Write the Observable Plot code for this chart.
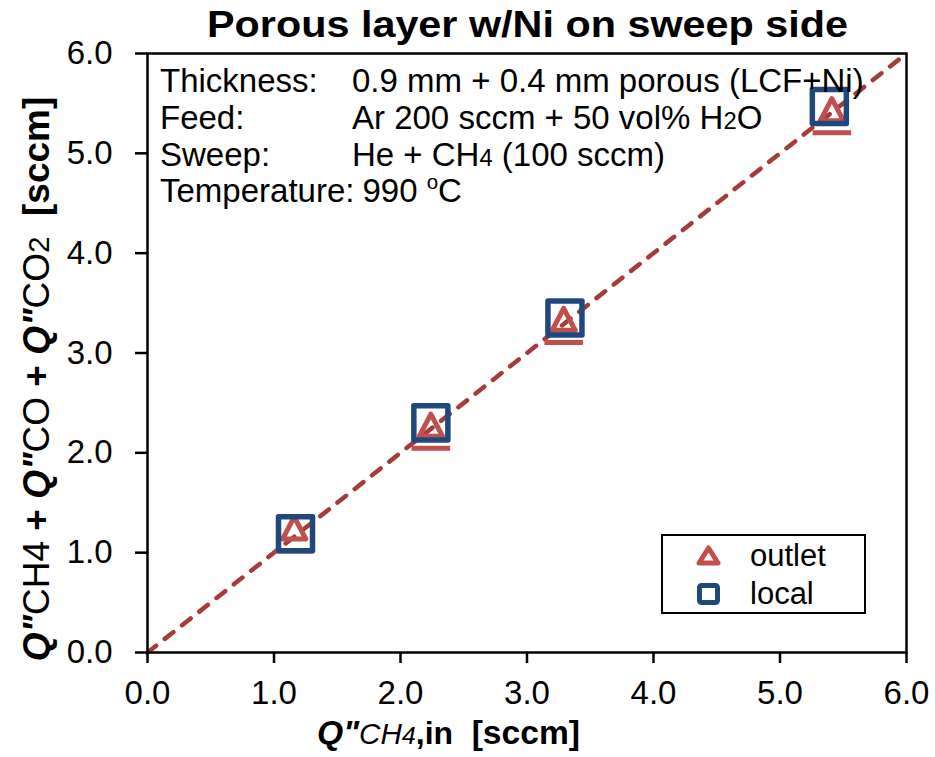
<!DOCTYPE html>
<html><head><meta charset="utf-8">
<script src="https://cdn.jsdelivr.net/npm/d3@7"></script>
<script src="https://cdn.jsdelivr.net/npm/@observablehq/plot@0.6"></script>
<style>
body{margin:0;background:#fff;}
svg{font-family:"Liberation Sans",Arial,sans-serif;}
</style>
</head><body><div id="chart"></div>
<script>
// ---- data ----
const titleText = "Porous layer w/Ni on sweep side";
const axisTicks = [0, 1, 2, 3, 4, 5, 6];
const parityLine = [0, 6];
const outletX = [1.16, 2.24, 3.29, 5.41];
const outletY = [1.22, 2.25, 3.31, 5.41];
const localX = [1.17, 2.24, 3.30, 5.39];
const localY = [1.19, 2.30, 3.35, 5.47];
const seriesNames = ["outlet", "local"];
const infoLabels = ["Thickness:", "Feed:", "Sweep:", "Temperature:"];
const infoValues = [
  [{t:"0.9 mm + 0.4 mm porous (LCF+Ni)"}],
  [{t:"Ar 200 sccm + 50 vol% H"},{t:"2",sub:1},{t:"O"}],
  [{t:"He + CH"},{t:"4",sub:1},{t:" (100 sccm)"}],
  [{t:"990 "},{t:"o",sup:1},{t:"C"}]
];
const xLabelParts = [{t:"Q\"",b:1,i:1},{t:"CH",i:1,s:0.88},{t:"4",i:1,s:0.75},{t:",in",b:1,s:0.95},{t:"  [sccm]",b:1}];
const yLabelParts = [{t:"Q\"",b:1,i:1},{t:"CH4"},{t:" + ",b:1},{t:"Q\"",b:1,i:1},{t:"CO"},{t:" + ",b:1},{t:"Q\"",b:1,i:1},{t:"CO"},{t:"2",s:0.8},{t:"  [sccm]",b:1}];

const red = "#c0504d", blue = "#1f497d", lineRed = "#a63c3a";

const outlet = outletX.map((x, i) => ({x, y: outletY[i]}));
const local = localX.map((x, i) => ({x, y: localY[i]}));
const diag = parityLine.map(v => ({x: v, y: v}));

// triangle marker with the bar drawn under it
const triBar = {draw(ctx, size){ const r = Math.sqrt(size/Math.PI);
  ctx.moveTo(0, -1.25*r); ctx.lineTo(1.05*r, 0.75*r); ctx.lineTo(-1.05*r, 0.75*r); ctx.closePath();
  ctx.moveTo(-1.75*r, 1.85*r); ctx.lineTo(1.75*r, 1.85*r); }};

const W = 935, H = 757, mL = 147, mR = 29, mT = 53, mB = 105;

const plot = Plot.plot({
  width: W, height: H,
  marginLeft: mL, marginRight: mR, marginTop: mT, marginBottom: mB,
  style: {fontFamily: "Liberation Sans, Arial, sans-serif", fontSize: "33px", background: "white", color: "black"},
  x: {domain: [0, 6]},
  y: {domain: [0, 6]},
  marks: [
    Plot.line(diag, {x: "x", y: "y", stroke: lineRed, strokeWidth: 4.5, strokeDasharray: "11,11", strokeLinecap: "round"}),
    Plot.dot(outlet, {x: "x", y: "y", symbol: triBar, r: 11, stroke: red, strokeWidth: 5, fill: "none", strokeLinejoin: "round"}),
    Plot.dot(local, {x: "x", y: "y", symbol: "square", r: 19.2, stroke: blue, strokeWidth: 5.5, fill: "none", strokeLinejoin: "round"}),
    Plot.frame({stroke: "black", strokeWidth: 2.5}),
    Plot.axisX({ticks: axisTicks, tickFormat: d => d.toFixed(1), tickSize: 11, tickPadding: 17, strokeWidth: 2.5, fontSize: 33, label: null}),
    Plot.axisY({ticks: axisTicks, tickFormat: d => d.toFixed(1), tickSize: 12, tickPadding: 23, strokeWidth: 2.5, fontSize: 33, label: null})
  ]
});
document.getElementById("chart").appendChild(plot);

const svg = d3.select(plot);
function rich(sel, parts, base){
  parts.forEach((p, k) => {
    const ts = sel.append("tspan").text(p.t)
      .attr("font-weight", p.b ? "bold" : "normal")
      .attr("font-style", p.i ? "italic" : "normal")
      .attr("font-size", (p.s ? p.s*base : (p.sub ? 0.72*base : p.sup ? 0.62*base : base)) + "px");
    if (p.sup) ts.attr("dy", -0.4*base);
    else if (k > 0 && parts[k-1].sup) ts.attr("dy", 0.4*base);
  });
  return sel;
}
// title
svg.append("text").attr("x", 527.5).attr("y", 37).attr("text-anchor", "middle")
  .attr("font-size", 36).attr("font-weight", "bold").attr("fill", "black")
  .attr("textLength", 641).attr("lengthAdjust", "spacingAndGlyphs").text(titleText);
// x label
rich(svg.append("text").attr("x", 317).attr("y", 744).attr("text-anchor", "start").attr("fill", "black")
  .attr("textLength", 263).attr("lengthAdjust", "spacingAndGlyphs"), xLabelParts, 33);
// y label
rich(svg.append("text").attr("transform", "translate(49,379) rotate(-90)").attr("text-anchor", "middle").attr("fill", "black"), yLabelParts, 37);
// info block
let tempLabel = null, tempValue = null;
infoLabels.forEach((lab, i) => {
  const y = 92.3 + i*36.7;
  const l = svg.append("text").attr("x", 160).attr("y", y).attr("text-anchor", "start").attr("font-size", 33).attr("fill", "black").text(lab);
  const v = rich(svg.append("text").attr("x", 352).attr("y", y).attr("text-anchor", "start").attr("fill", "black"), infoValues[i], 33);
  if (i === 3) { tempLabel = l.node(); tempValue = v; }
});
{ const bb = tempLabel.getBBox(); tempValue.attr("x", bb.x + bb.width + 8); }
// legend
const lg = svg.append("g");
lg.append("rect").attr("x", 662).attr("y", 535).attr("width", 203).attr("height", 78)
  .attr("fill", "white").attr("stroke", "black").attr("stroke-width", 2);
lg.append("path").attr("d", "M708.5,548 L718,563 L699,563 Z").attr("fill", "none").attr("stroke", red).attr("stroke-width", 5).attr("stroke-linejoin", "round");
lg.append("rect").attr("x", 699.5).attr("y", 585.5).attr("width", 18).attr("height", 17).attr("fill", "none").attr("stroke", blue).attr("stroke-width", 5).attr("rx", 2);
seriesNames.forEach((n, i) => {
  lg.append("text").attr("x", 750).attr("y", 566 + i*38).attr("text-anchor", "start").attr("font-size", 31).attr("fill", "black").text(n);
});
</script>
</body></html>
